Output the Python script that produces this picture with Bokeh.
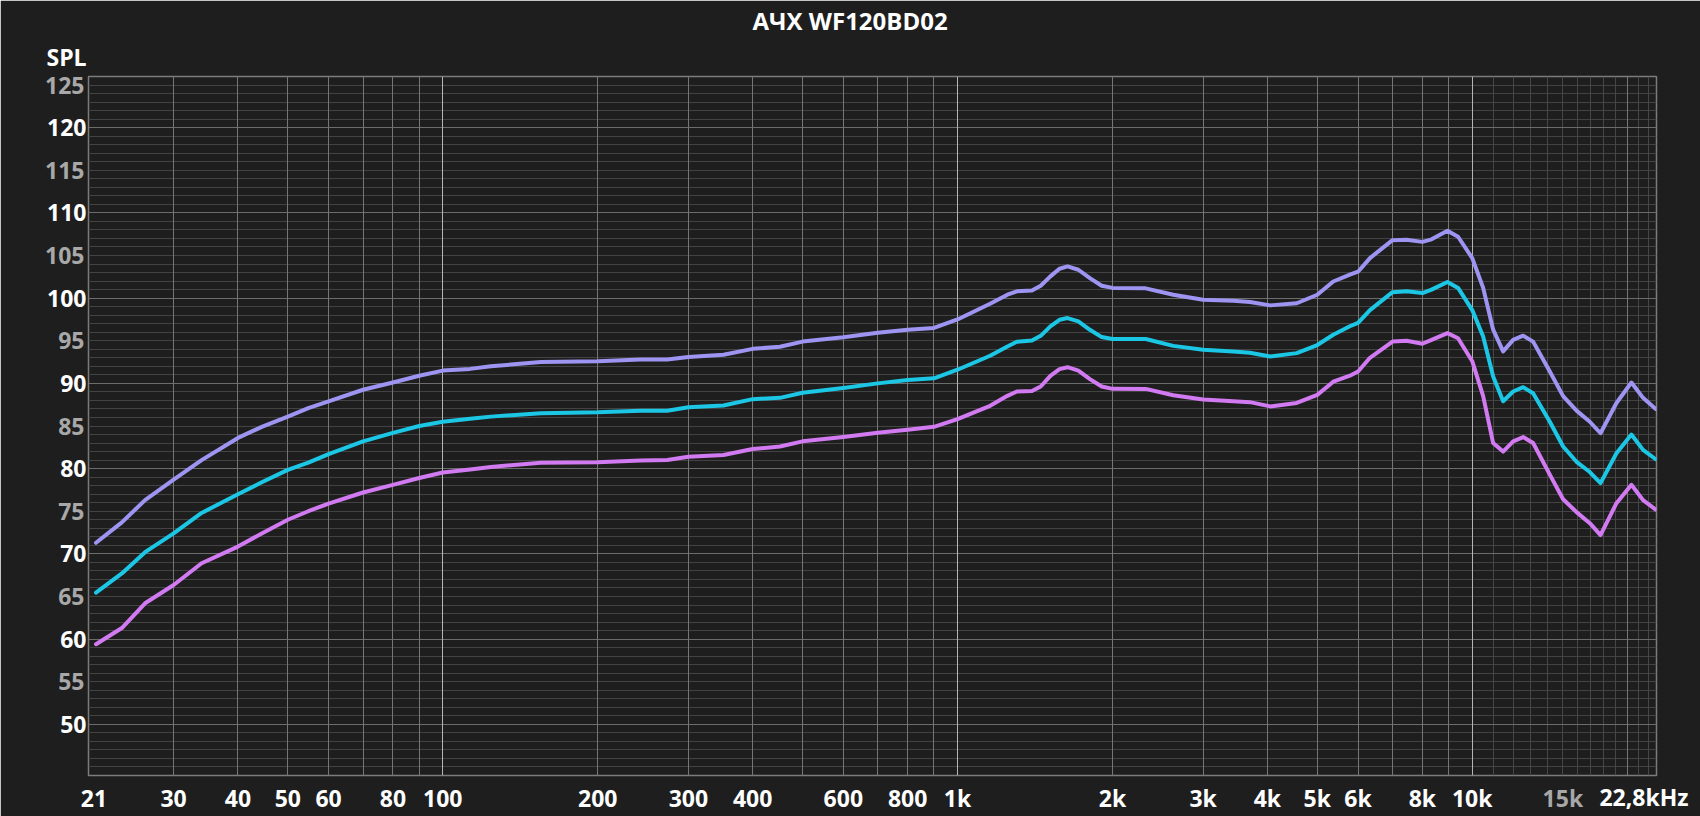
from bokeh.plotting import figure
from bokeh.models import Range1d, FixedTicker, Grid, LinearAxis, LogAxis, Title
from bokeh.embed import file_html
from bokeh.resources import INLINE

FONT = "Open Sans"

title_text = "АЧХ WF120BD02"
y_title = "SPL"

freq = [21.2, 23.8, 26.4, 30, 34, 40, 44.5, 50, 54.8, 60, 70, 80, 90, 100, 113, 124, 155,
        200, 242, 273, 300, 351, 400, 452, 500, 600, 700, 800, 900, 1000, 1157, 1250, 1304,
        1395, 1451, 1515, 1578, 1636, 1717, 1808, 1906, 2000, 2321, 2625, 3000, 3433, 3700,
        4050, 4560, 5000, 5370, 5784, 6000, 6328, 7000, 7454, 8000, 8337, 8950, 9385, 10000,
        10500, 10980, 11480, 12008, 12557, 13130, 14148, 15015, 15943, 16920, 17750, 19060,
        20380, 21470, 22720]

spl_top = [71.3, 73.7, 76.3, 78.7, 81.0, 83.6, 84.9, 86.1, 87.1, 87.9, 89.25, 90.1, 90.9, 91.5,
           91.7, 92.0, 92.5, 92.6, 92.8, 92.8, 93.1, 93.35, 94.05, 94.3, 94.9, 95.4, 95.95, 96.3,
           96.5, 97.5, 99.34, 100.4, 100.8, 100.9, 101.45, 102.55, 103.45, 103.72, 103.33,
           102.35, 101.45, 101.2, 101.15, 100.4, 99.8, 99.7, 99.55, 99.15, 99.4, 100.4, 101.95,
           102.75, 103.1, 104.7, 106.8, 106.85, 106.6, 106.9, 107.9, 107.2, 104.7, 101.2, 96.3,
           93.75, 95.1, 95.6, 94.9, 91.4, 88.5, 86.8, 85.5, 84.15, 87.7, 90.1, 88.3, 87.0]

spl_mid = [65.45, 67.7, 70.2, 72.4, 74.8, 77.0, 78.4, 79.85, 80.7, 81.7, 83.2, 84.2, 85.0, 85.5,
           85.85, 86.1, 86.5, 86.6, 86.8, 86.8, 87.2, 87.4, 88.15, 88.3, 88.9, 89.45, 90.0, 90.4,
           90.6, 91.6, 93.24, 94.33, 94.88, 95.03, 95.58, 96.68, 97.46, 97.66, 97.27, 96.29,
           95.43, 95.2, 95.2, 94.4, 93.95, 93.75, 93.6, 93.15, 93.55, 94.5, 95.7, 96.7, 97.1,
           98.6, 100.7, 100.8, 100.6, 101.0, 101.9, 101.2, 98.6, 95.5, 90.8, 87.9, 89.05, 89.55,
           88.85, 85.5, 82.6, 80.8, 79.6, 78.3, 81.8, 84.0, 82.2, 81.1]

spl_low = [59.4, 61.3, 64.2, 66.35, 68.9, 70.85, 72.4, 74.0, 75.0, 75.9, 77.2, 78.1, 78.9, 79.55,
           79.9, 80.2, 80.7, 80.75, 80.95, 81.0, 81.4, 81.6, 82.3, 82.6, 83.2, 83.7, 84.2, 84.55,
           84.9, 85.8, 87.37, 88.54, 89.05, 89.1, 89.63, 90.89, 91.67, 91.9, 91.5, 90.5, 89.63,
           89.36, 89.35, 88.6, 88.1, 87.9, 87.8, 87.3, 87.7, 88.65, 90.2, 90.9, 91.4, 93.0, 94.9,
           95.0, 94.65, 95.1, 95.9, 95.3, 92.6, 88.5, 83.0, 82.0, 83.2, 83.7, 83.0, 79.3, 76.4,
           74.9, 73.6, 72.2, 75.95, 78.1, 76.3, 75.2]

series = [spl_top, spl_mid, spl_low]
series_colors = ["#9e94f2", "#1bc7e5", "#d27af2"]

x_ticks = [21, 30, 40, 50, 60, 80, 100, 200, 300, 400, 600, 800, 1000, 2000, 3000, 4000,
           5000, 6000, 8000, 10000]
x_tick_labels = ["21", "30", "40", "50", "60", "80", "100", "200", "300", "400", "600", "800",
                 "1k", "2k", "3k", "4k", "5k", "6k", "8k", "10k"]
x_ticks_dim = [15000]
x_tick_labels_dim = ["15k"]
x_end = 22800
x_end_label = "22,8kHz"

y_ticks = [50, 60, 70, 80, 90, 100, 110, 120]
y_ticks_dim = [55, 65, 75, 85, 95, 105, 115, 125]

X_START = 20.5
Y_START, Y_END = 44, 126

BG = "#1e1e1e"
WHITE = "#ffffff"
GRAY_TXT = "#a8a8a8"
FS = "23px"

p = figure(width=1700, height=816, x_axis_type="log",
           x_range=Range1d(X_START, x_end), y_range=Range1d(Y_START, Y_END),
           output_backend="svg", toolbar_location=None, title=None,
           min_border_left=88, min_border_right=44, min_border_top=76, min_border_bottom=40,
           background_fill_color=BG, border_fill_color=BG,
           outline_line_color="#7c7c7c", outline_line_width=1.5)

p.xgrid.visible = False
p.ygrid.visible = False

# grids
y_minor = [v for v in range(Y_START + 1, Y_END + 1) if v % 10 != 0]
x_fine = [11000, 12000, 13000, 14000, 15000, 16000, 17000, 18000, 19000, 21000, 22000]
x_minor = [30, 40, 50, 60, 70, 80, 90, 200, 300, 400, 500, 600, 700, 800, 900,
           2000, 3000, 4000, 5000, 6000, 7000, 8000, 9000, 20000]
x_major = [100, 1000, 10000]

for dim, ticks, col in [(1, y_minor, "#434343"), (0, x_fine, "#464646"),
                        (1, y_ticks, "#6c6c6c"), (0, x_minor, "#767676"),
                        (0, x_major, "#b4b4b4")]:
    p.add_layout(Grid(dimension=dim, ticker=FixedTicker(ticks=ticks),
                      grid_line_color=col, grid_line_width=1))

# curves
for ys, col in zip(series, series_colors):
    p.line(freq, ys, line_color=col, line_width=4, line_join="round", line_cap="round")


def style_axis(ax, color, standoff):
    ax.axis_line_color = None
    ax.major_tick_line_color = None
    ax.minor_tick_line_color = None
    ax.major_tick_out = 0
    ax.major_tick_in = 0
    ax.minor_tick_out = 0
    ax.minor_tick_in = 0
    ax.major_label_text_font = FONT
    ax.major_label_text_font_size = FS
    ax.major_label_text_font_style = "bold"
    ax.major_label_text_color = color
    ax.major_label_standoff = standoff


# y axes: white labels nearest the frame, grey labels pulled back into the same column
ya = p.yaxis[0]
ya.ticker = FixedTicker(ticks=y_ticks)
style_axis(ya, WHITE, 2)

ya2 = LinearAxis(ticker=FixedTicker(ticks=y_ticks_dim))
style_axis(ya2, GRAY_TXT, -40)
p.add_layout(ya2, "left")

# x axes
xa = p.xaxis[0]
xa.ticker = FixedTicker(ticks=x_ticks)
xa.major_label_overrides = {t: l for t, l in zip(x_ticks, x_tick_labels)}
style_axis(xa, WHITE, -35)

xa2 = LogAxis(ticker=FixedTicker(ticks=x_ticks_dim),
              major_label_overrides={t: l for t, l in zip(x_ticks_dim, x_tick_labels_dim)})
style_axis(xa2, GRAY_TXT, -35)

end_title = Title(text=x_end_label, align="right", offset=-32, standoff=7,
                  vertical_align="bottom", text_color=WHITE, text_font=FONT,
                  text_font_size=FS, text_font_style="bold")
p.below = [end_title, xa, xa2]

# titles (first added sits nearest the frame)
p.add_layout(Title(text=y_title, align="left", offset=-42, standoff=4,
                   vertical_align="top", text_color=WHITE, text_font=FONT,
                   text_font_size=FS, text_font_style="bold"), "above")
p.add_layout(Title(text=title_text, align="left", offset=664, standoff=0,
                   vertical_align="top", text_color=WHITE, text_font=FONT,
                   text_font_size="24px", text_font_style="bold"), "above")

open("out.html", "w").write(file_html(p, INLINE))
